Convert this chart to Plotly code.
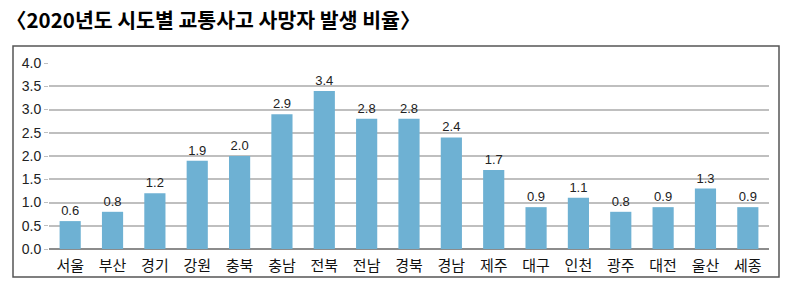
import plotly.graph_objects as go

regions = ["서울", "부산", "경기", "강원", "충북", "충남", "전북", "전남", "경북",
           "경남", "제주", "대구", "인천", "광주", "대전", "울산", "세종"]
rates = [0.6, 0.8, 1.2, 1.9, 2.0, 2.9, 3.4, 2.8, 2.8, 2.4, 1.7, 0.9, 1.1, 0.8, 0.9, 1.3, 0.9]
y_ticks = [0.0, 0.5, 1.0, 1.5, 2.0, 2.5, 3.0, 3.5, 4.0]
title_text = "〈2020년도 시도별 교통사고 사망자 발생 비율〉"

FONT = "Noto Sans CJK KR"

fig = go.Figure(go.Bar(
    x=regions, y=rates,
    marker=dict(color="#6EB1D3", line=dict(width=0)),
    width=0.5,
    text=[f"{v:.1f}" for v in rates],
    textposition="outside",
    textfont=dict(family="Liberation Sans", size=13, color="#222222"),
    cliponaxis=False,
))

fig.update_layout(
    width=790, height=290,
    margin=dict(l=49, r=21, t=63, b=41),
    paper_bgcolor="white", plot_bgcolor="white",
    showlegend=False,
    bargap=0.5,
    font=dict(family=FONT, color="#111111"),
    xaxis=dict(
        tickfont=dict(family=FONT, size=15, color="#111111"),
        showgrid=False, showline=False, ticks="",
        ticklabelstandoff=6,
    ),
    yaxis=dict(
        range=[0, 4.0], tickvals=y_ticks,
        ticktext=[f"{v:.1f}" for v in y_ticks],
        tickfont=dict(family="Liberation Sans", size=14, color="#222222"),
        showgrid=True, gridcolor="#BFBFBF", gridwidth=1.5,
        zeroline=True, zerolinecolor="#8C8C8C", zerolinewidth=1.5,
        ticks="outside", ticklen=4, tickcolor="#BFBFBF",
        showline=False,
    ),
    annotations=[dict(
        text="<b>" + title_text + "</b>",
        xref="paper", yref="paper", x=(4 - 49) / 720, y=(249 - 2) / 186,
        xanchor="left", yanchor="top", showarrow=False,
        font=dict(family=FONT, size=20.5, color="#000000"),
    )],
    shapes=[dict(
        type="rect", xref="paper", yref="paper",
        x0=(13 - 49) / 720, x1=(779 - 49) / 720,
        y0=(249 - 277) / 186, y1=(249 - 46) / 186,
        line=dict(color="#555555", width=1.5), fillcolor="rgba(0,0,0,0)",
        layer="below",
    )],
)

fig.write_html("out.html")
